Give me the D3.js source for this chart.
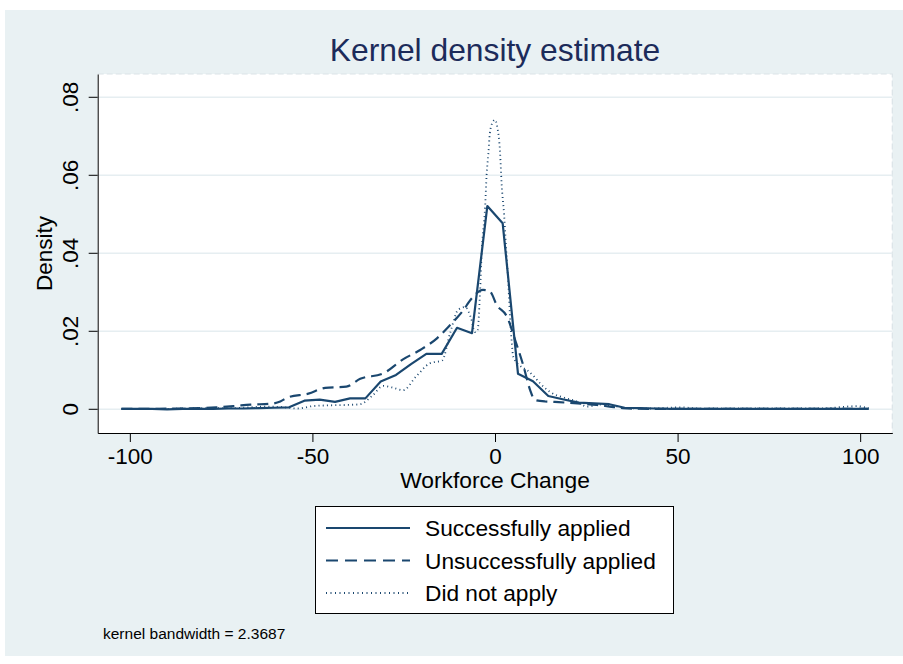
<!DOCTYPE html>
<html><head><meta charset="utf-8">
<script src="https://cdn.jsdelivr.net/npm/d3@7"></script>
<style>html,body{margin:0;padding:0;background:#fff;}svg{display:block;font-family:"Liberation Sans",Arial,sans-serif;}</style>
</head><body>
<script>
// ---- data ----
const titleText = "Kernel density estimate";
const xTicks = [-100, -50, 0, 50, 100];
const xTickLabels = ["-100", "-50", "0", "50", "100"];
const yTicks = [0, 0.02, 0.04, 0.06, 0.08];
const yTickLabels = ["0", ".02", ".04", ".06", ".08"];
const seriesNames = ["Successfully applied", "Unsuccessfully applied", "Did not apply"];

// Successfully applied (kdensity, 50 evaluation points)
const succX = [-102.3,-98.1,-93.9,-89.8,-85.6,-81.4,-77.2,-73.1,-68.9,-64.7,-60.5,-56.4,-52.2,-48.0,-43.8,-39.7,-35.5,-31.3,-27.1,-23.0,-18.8,-14.6,-10.4,-6.3,-2.1,2.1,6.3,10.4,14.6,18.8,23.0,27.1,31.3,35.5,39.7,43.8,48.0,52.2,56.4,60.5,64.7,68.9,73.1,77.2,81.4,85.6,89.8,93.9,98.1,102.3];
const succY = [0.0001,0.0001,0.0001,0.0000,0.0001,0.0001,0.0001,0.0002,0.0002,0.0003,0.0004,0.0005,0.0022,0.0025,0.0019,0.0028,0.0028,0.0071,0.0088,0.0116,0.0142,0.0142,0.0209,0.0195,0.0521,0.0477,0.0091,0.0072,0.0034,0.0025,0.0017,0.0015,0.0013,0.0004,0.0003,0.0002,0.0001,0.0001,0.0001,0.0001,0.0001,0.0001,0.0001,0.0001,0.0001,0.0001,0.0001,0.0001,0.0001,0.0001];

// Unsuccessfully applied
const unsuccX = [-102.3,-86.1,-76.3,-71.6,-67.0,-61.5,-58.8,-56.6,-51.1,-46.5,-40.7,-36.9,-30.6,-25.2,-20.5,-15.9,-12.3,-9.0,-6.3,-3.3,-1.4,0.5,3.3,5.5,7.7,9.6,10.9,13.7,16.4,19.7,24.1,27.9,31.4,35.0,42.4,60.0,80.0,102.3];
const unsuccY = [0.0001,0.0002,0.0005,0.0008,0.0012,0.0014,0.0020,0.0031,0.0040,0.0055,0.0058,0.0078,0.0092,0.0128,0.0152,0.0182,0.0216,0.0250,0.0285,0.0306,0.0302,0.0267,0.0237,0.0178,0.0114,0.0050,0.0024,0.0020,0.0019,0.0017,0.0014,0.0011,0.0007,0.0003,0.0001,0.0001,0.0001,0.0001];

// Did not apply
const notX = [-102.3,-91.6,-80.7,-72.5,-67.0,-63.4,-58.8,-54.1,-50.0,-45.9,-41.0,-36.9,-33.6,-30.6,-28.2,-25.2,-21.6,-17.8,-14.5,-12.3,-10.1,-8.2,-6.6,-5.5,-4.8,-4.1,-3.6,-2.7,-2.3,-1.8,-1.4,-0.7,0.0,0.6,1.4,1.8,2.5,3.0,3.6,4.1,4.6,5.0,6.8,8.8,10.9,12.3,15.0,19.1,22.4,25.2,28.7,32.3,36.1,42.4,50.6,56.1,72.5,88.9,99.0,102.3];
const notY = [0.0001,0.0001,0.0003,0.0003,0.0005,0.0007,0.0006,0.0002,0.0008,0.0010,0.0011,0.0013,0.0035,0.0060,0.0056,0.0049,0.0084,0.0118,0.0125,0.0195,0.0255,0.0262,0.0235,0.0198,0.0200,0.0300,0.0410,0.0520,0.0600,0.0657,0.0708,0.0735,0.0742,0.0725,0.0657,0.0580,0.0498,0.0420,0.0330,0.0240,0.0170,0.0135,0.0112,0.0100,0.0082,0.0067,0.0045,0.0029,0.0020,0.0007,0.0012,0.0009,0.0003,0.0002,0.0005,0.0002,0.0002,0.0002,0.0008,0.0003];

// ---- drawing ----
const W = 903, H = 664;
const navy = "#1a476f";
const bg = "#e9f1f3";
const fontFam = "Liberation Sans, Arial, sans-serif";
const svg = d3.select("body").append("svg").attr("width", W).attr("height", H);

svg.append("rect").attr("x", 5).attr("y", 10).attr("width", W - 5).attr("height", 646).attr("fill", bg);

const x = d3.scaleLinear().domain([-108.8, 108.8]).range([97.7, 892.3]);
const y = d3.scaleLinear().domain([-0.00608, 0.08597]).range([433, 74]);

const [px0, px1] = x.range();
const [py0, py1] = y.range();

svg.append("rect").attr("x", px0).attr("y", py1).attr("width", px1 - px0).attr("height", py0 - py1).attr("fill", "#fff");
svg.append("path").attr("d", `M${px0},${py1}H${px1}V${py0}`).attr("fill", "none")
  .attr("stroke", "#dbe4e8").attr("stroke-width", 1.2).attr("stroke-dasharray", "6,3");

// gridlines
svg.append("g").selectAll("line").data(yTicks).join("line")
  .attr("x1", px0).attr("x2", px1).attr("y1", d => y(d)).attr("y2", d => y(d))
  .attr("stroke", "#e6eef1").attr("stroke-width", 1.6);

// curves
const line = (xs, ys, curve) => d3.line().x((d, i) => x(xs[i])).y((d, i) => y(ys[i])).curve(curve)(xs);
svg.append("path").attr("d", line(notX, notY, d3.curveMonotoneX)).attr("fill", "none")
  .attr("stroke", navy).attr("stroke-width", 1.8).attr("stroke-dasharray", "1,3.2");
svg.append("path").attr("d", line(unsuccX, unsuccY, d3.curveMonotoneX)).attr("fill", "none")
  .attr("stroke", navy).attr("stroke-width", 2.2).attr("stroke-dasharray", "11,6");
svg.append("path").attr("d", line(succX, succY, d3.curveLinear)).attr("fill", "none")
  .attr("stroke", navy).attr("stroke-width", 2.2).attr("stroke-linejoin", "round");

// axes
const yAxis = svg.append("g").attr("transform", `translate(${px0},0)`)
  .call(d3.axisLeft(y).tickValues(yTicks).tickFormat((d, i) => yTickLabels[i]).tickSize(9).tickSizeOuter(0));
yAxis.selectAll(".tick").attr("transform", "translate(0,0)");
yAxis.selectAll(".tick line").attr("y1", d => y(d)).attr("y2", d => y(d));
yAxis.selectAll(".tick text").attr("font-size", 22.5).attr("font-family", fontFam).attr("fill", "#000")
  .attr("text-anchor", "middle").attr("dy", 0).attr("transform", "rotate(-90)")
  .attr("x", d => -y(d)).attr("y", -20);
yAxis.select(".domain").attr("stroke", "#000");
yAxis.selectAll("line").attr("stroke", "#000");

const xAxis = svg.append("g").attr("transform", `translate(0,${py0})`)
  .call(d3.axisBottom(x).tickValues(xTicks).tickFormat((d, i) => xTickLabels[i]).tickSize(9).tickSizeOuter(0).tickPadding(4));
xAxis.selectAll("text").attr("font-size", 22.5).attr("font-family", fontFam).attr("fill", "#000").attr("dy", "0.78em");
xAxis.select(".domain").attr("stroke", "#000");
xAxis.selectAll("line").attr("stroke", "#000");

// titles
svg.append("text").attr("x", (px0 + px1) / 2).attr("y", 61).attr("text-anchor", "middle")
  .attr("font-size", 31.8).attr("fill", "#1c2b5a").text(titleText);
svg.append("text").attr("x", (px0 + px1) / 2).attr("y", 488).attr("text-anchor", "middle")
  .attr("font-size", 22.8).attr("fill", "#000").text("Workforce Change");
svg.append("text").attr("transform", `translate(52,${(py0 + py1) / 2}) rotate(-90)`).attr("text-anchor", "middle")
  .attr("font-size", 22.5).attr("fill", "#000").text("Density");

// legend
const lg = svg.append("g");
lg.append("rect").attr("x", 315.5).attr("y", 506.5).attr("width", 358).attr("height", 107)
  .attr("fill", "#fff").attr("stroke", "#000").attr("stroke-width", 1);
const lgY = [528, 560.5, 593];
const dashes = [null, "12,7", "1,3.5"];
const widths = [2.2, 2.2, 1.8];
seriesNames.forEach((nm, i) => {
  lg.append("line").attr("x1", 326).attr("x2", 410).attr("y1", lgY[i]).attr("y2", lgY[i])
    .attr("stroke", navy).attr("stroke-width", widths[i]).attr("stroke-dasharray", dashes[i]);
  lg.append("text").attr("x", 425).attr("y", lgY[i] + 8).attr("font-size", 22.7).attr("fill", "#000").text(nm);
});

svg.append("text").attr("x", 103).attr("y", 639).attr("font-size", 15.5).attr("fill", "#000").text("kernel bandwidth = 2.3687");
</script>
</body></html>
